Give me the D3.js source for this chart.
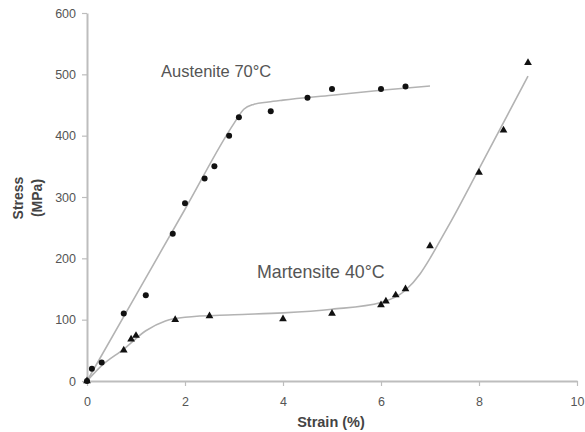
<!DOCTYPE html>
<html>
<head>
<meta charset="utf-8">
<script src="https://cdn.jsdelivr.net/npm/d3@7.9.0/dist/d3.min.js"></script>
<style>
  html, body { margin: 0; padding: 0; background: #fff; }
  svg { display: block; font-family: "Liberation Sans", Arial, sans-serif; }
</style>
</head>
<body>
<div id="chart"></div>
<script>
// measured points, Austenite 70°C (circles)
const austeniteStrain = [0, 0.1, 0.3, 0.75, 1.2, 1.75, 2.0, 2.4, 2.6, 2.9, 3.1, 3.75, 4.5, 5.0, 6.0, 6.5];
const austeniteStress = [0, 20, 30, 110, 140, 240, 290, 330, 350, 400, 430, 440, 462, 476, 476, 480];

// measured points, Martensite 40°C (triangles)
const martensiteStrain = [0, 0.75, 0.9, 1.0, 1.8, 2.5, 4.0, 5.0, 6.0, 6.1, 6.3, 6.5, 7.0, 8.0, 8.5, 9.0];
const martensiteStress = [0, 50, 68, 74, 100, 106, 101, 110, 124, 130, 140, 150, 220, 340, 409, 519];

// fitted curves
const austeniteFitStrain = [0, 1, 2, 3, 3.2, 3.4, 3.7, 4, 5, 6, 7];
const austeniteFitStress = [0, 140, 280, 420, 443, 451, 455, 458, 466, 474, 481];

const martensiteFitStrain = [0, 0.3, 0.75, 1.2, 1.6, 2, 3, 4, 5, 6, 6.5, 6.8, 7.0, 7.2, 7.44, 8, 9];
const martensiteFitStress = [0, 25, 52, 82, 98, 104, 108, 111, 117, 128, 148, 175, 200, 228, 262, 346, 497];

const xTicks = [0, 2, 4, 6, 8, 10];
const yTicks = [0, 100, 200, 300, 400, 500, 600];

const width = 585;
const height = 432;

const svg = d3.select('#chart')
    .append('svg')
    .attr('width', width)
    .attr('height', height);

const xScale = d3.scaleLinear().domain([0, 10]).range([87, 577]);
const yScale = d3.scaleLinear().domain([0, 600]).range([381, 13]);

const axisColor = '#bdbdbd';
const textColor = '#555';

const xAxis = svg.append('g')
    .attr('transform', `translate(0, ${yScale(0)})`)
    .call(d3.axisBottom(xScale).tickValues(xTicks).tickSize(5).tickPadding(11).tickSizeOuter(0));

const yAxis = svg.append('g')
    .attr('transform', `translate(${xScale(0)}, 0)`)
    .call(d3.axisLeft(yScale).tickValues(yTicks).tickSize(5).tickPadding(6).tickSizeOuter(0));

[xAxis, yAxis].forEach(g => {
    g.select('.domain').attr('stroke', axisColor).attr('stroke-width', 2);
    g.selectAll('.tick line').attr('stroke', axisColor).attr('stroke-width', 1.2);
    g.selectAll('.tick text')
        .attr('fill', textColor)
        .style('font-size', '12.5px')
        .style('font-family', '"Liberation Sans", Arial, sans-serif');
});

// fitted curves
const line = d3.line()
    .x(d => xScale(d[0]))
    .y(d => yScale(d[1]))
    .curve(d3.curveMonotoneX);

const fits = [
    d3.zip(austeniteFitStrain, austeniteFitStress),
    d3.zip(martensiteFitStrain, martensiteFitStress)
];

svg.append('g')
    .selectAll('path')
    .data(fits)
    .join('path')
    .attr('d', line)
    .attr('fill', 'none')
    .attr('stroke', '#b3b3b3')
    .attr('stroke-width', 1.6);

// markers
svg.append('g')
    .selectAll('circle')
    .data(d3.zip(austeniteStrain, austeniteStress))
    .join('circle')
    .attr('cx', d => xScale(d[0]))
    .attr('cy', d => yScale(d[1]))
    .attr('r', 3)
    .attr('fill', '#111');

const tri = d3.symbol().type(d3.symbolTriangle).size(26);

svg.append('g')
    .selectAll('path')
    .data(d3.zip(martensiteStrain, martensiteStress))
    .join('path')
    .attr('d', tri)
    .attr('transform', d => `translate(${xScale(d[0])}, ${yScale(d[1])})`)
    .attr('fill', '#111');

// annotations
svg.append('text')
    .attr('x', 161)
    .attr('y', 77)
    .attr('fill', '#555')
    .style('font-size', '16.5px')
    .text('Austenite 70°C');

svg.append('text')
    .attr('x', 257)
    .attr('y', 278)
    .attr('fill', '#555')
    .style('font-size', '17.8px')
    .text('Martensite 40°C');

// axis titles
svg.append('text')
    .attr('x', 331)
    .attr('y', 427)
    .attr('text-anchor', 'middle')
    .attr('fill', '#444')
    .style('font-size', '14.5px')
    .style('font-weight', 'bold')
    .text('Strain (%)');

const yTitle = svg.append('g')
    .attr('transform', 'translate(0, 198) rotate(-90)');

yTitle.append('text')
    .attr('x', 0)
    .attr('y', 23)
    .attr('text-anchor', 'middle')
    .attr('fill', '#444')
    .style('font-size', '14px')
    .style('font-weight', 'bold')
    .text('Stress');

yTitle.append('text')
    .attr('x', 0)
    .attr('y', 42)
    .attr('text-anchor', 'middle')
    .attr('fill', '#444')
    .style('font-size', '14px')
    .style('font-weight', 'bold')
    .text('(MPa)');
</script>
</body>
</html>
